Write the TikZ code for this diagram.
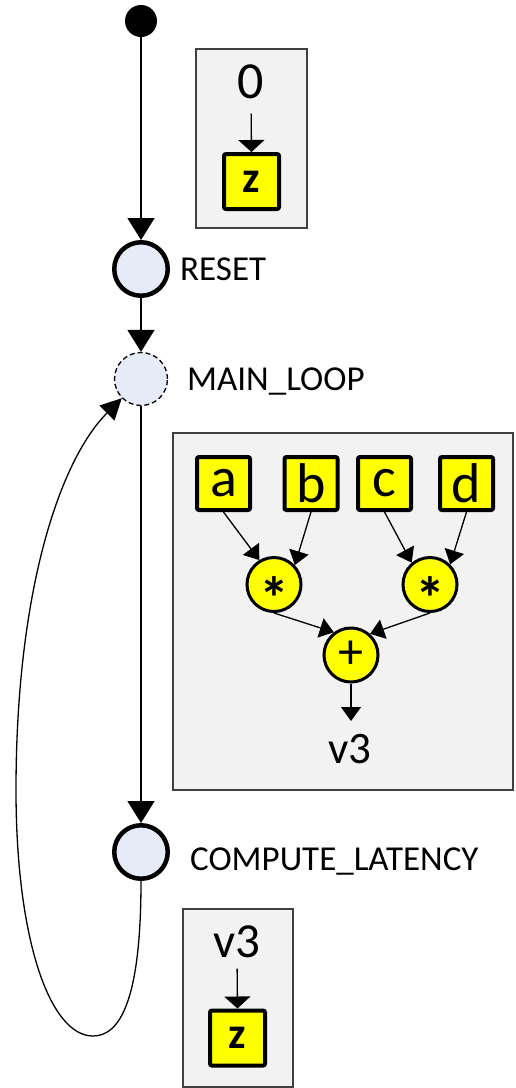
\documentclass[tikz,border=0pt]{standalone}
\usepackage{fontspec}
\setmainfont{Carlito}
\usetikzlibrary{arrows.meta}
\definecolor{statefill}{RGB}{230,236,247}
\definecolor{boxfill}{RGB}{242,242,242}
\definecolor{opyellow}{RGB}{255,255,0}
\begin{document}
\begin{tikzpicture}[x=1pt,y=-1pt,
  bigarrow/.style={-{Triangle[width=27pt,length=22pt]}, line width=1.5pt},
  loopArrow/.style={-{Triangle[width=21pt,length=21pt]}, line width=1.3pt},
  smallarrow/.style={-{Triangle[width=20pt,length=14pt]}, line width=1.3pt},
  flatarrow/.style={-{Triangle[width=26pt,length=12pt]}, line width=1.3pt},
  state/.style={circle, draw=black, line width=4.5pt, fill=statefill, minimum size=53.5pt, inner sep=0pt},
  vstate/.style={circle, draw=black, dashed, dash pattern=on 5pt off 3pt, line width=1.3pt, fill=statefill, minimum size=53pt, inner sep=0pt},
  lbl/.style={anchor=base west, inner sep=0pt, font=\fontsize{35}{40}\selectfont},
  panel/.style={draw=black!75, line width=1.3pt, fill=boxfill},
  reg/.style={draw=black, line width=4pt, fill=opyellow, minimum size=53pt, inner sep=0pt, rounded corners=2pt, font=\fontsize{56}{60}\selectfont},
  zreg/.style={draw=black, line width=4pt, fill=opyellow, minimum size=55pt, inner sep=0pt, rounded corners=2pt, font=\fontsize{44}{48}\selectfont\bfseries},
  op/.style={circle, draw=black, line width=3pt, fill=opyellow, minimum size=54pt, inner sep=0pt, font=\fontsize{50}{54}\selectfont},
  val/.style={anchor=base, inner sep=0pt}
]
\useasboundingbox (0,0) rectangle (515,1088);

% panels
\draw[panel] (196,49) rectangle (307,228);
\draw[panel] (173,433) rectangle (513,790);
\draw[panel] (183,909) rectangle (293,1087);

% states
\node[circle, fill=black, minimum size=32pt, inner sep=0pt] (start) at (141,21) {};
\node[state] (reset) at (141,269) {};
\node[vstate] (ml) at (141,379) {};
\node[state] (cl) at (141,852) {};

\node[lbl] (resetl) at (180,280) {RESET};
\node[lbl] (mll) at (187,390) {MAIN\_LOOP};
\node[lbl] (cll) at (190,870) {COMPUTE\_LATENCY};

\draw[bigarrow] (start) -- (reset.north);
\draw[bigarrow] (reset.south) -- (ml.north);
\draw[bigarrow] (ml.south) -- (cl.north);
\draw[loopArrow] (cl.south) .. controls (141,1000) and (120,1036) .. (93,1036)
  .. controls (50,1036) and (16,940) .. (16,790)
  .. controls (16,590) and (60,460) .. (ml.225);

% panel 1
\node[val, font=\fontsize{52}{56}\selectfont] (zero) at (251,98) {0};
\node[zreg] (z1) at (251.5,181.5) {z};
\draw[flatarrow, shorten <=15pt] (zero.south) -- (z1.north);

% panel 2
\node[reg] (a) at (223.5,483.5) {a};
\node[reg] (b) at (311,483.5) {b};
\node[reg] (c) at (384.5,483.5) {c};
\node[reg] (d) at (466.5,483.5) {d};
\node[op] (m1) at (274,584.5) {\fontsize{60}{60}\selectfont\bfseries\raisebox{-0.58em}[0pt][0pt]{*}};
\node[op] (m2) at (430,584.5) {\fontsize{60}{60}\selectfont\bfseries\raisebox{-0.58em}[0pt][0pt]{*}};
\node[op] (plus) at (351,655) {+};
\node[val, font=\fontsize{45}{50}\selectfont] (v3a) at (350,763) {v3};
\coordinate (v3in) at (351,721);
\draw[smallarrow] (a.south) -- (m1.121);
\draw[smallarrow] (b.south) -- (m1.43);
\draw[smallarrow] (c.south) -- (m2.130);
\draw[smallarrow] (d.south) -- (m2.45);
\draw[smallarrow] (m1.south) -- (plus.127);
\draw[smallarrow] (m2.south) -- (plus.48);
\draw[smallarrow] (plus.south) -- (v3in);

% panel 3
\node[val, font=\fontsize{49}{52}\selectfont] (v3b) at (237,957) {v3};
\node[zreg] (z2) at (237.5,1038) {z};
\draw[flatarrow, shorten <=11pt] (v3b.south) -- (z2.north);
\end{tikzpicture}
\end{document}
